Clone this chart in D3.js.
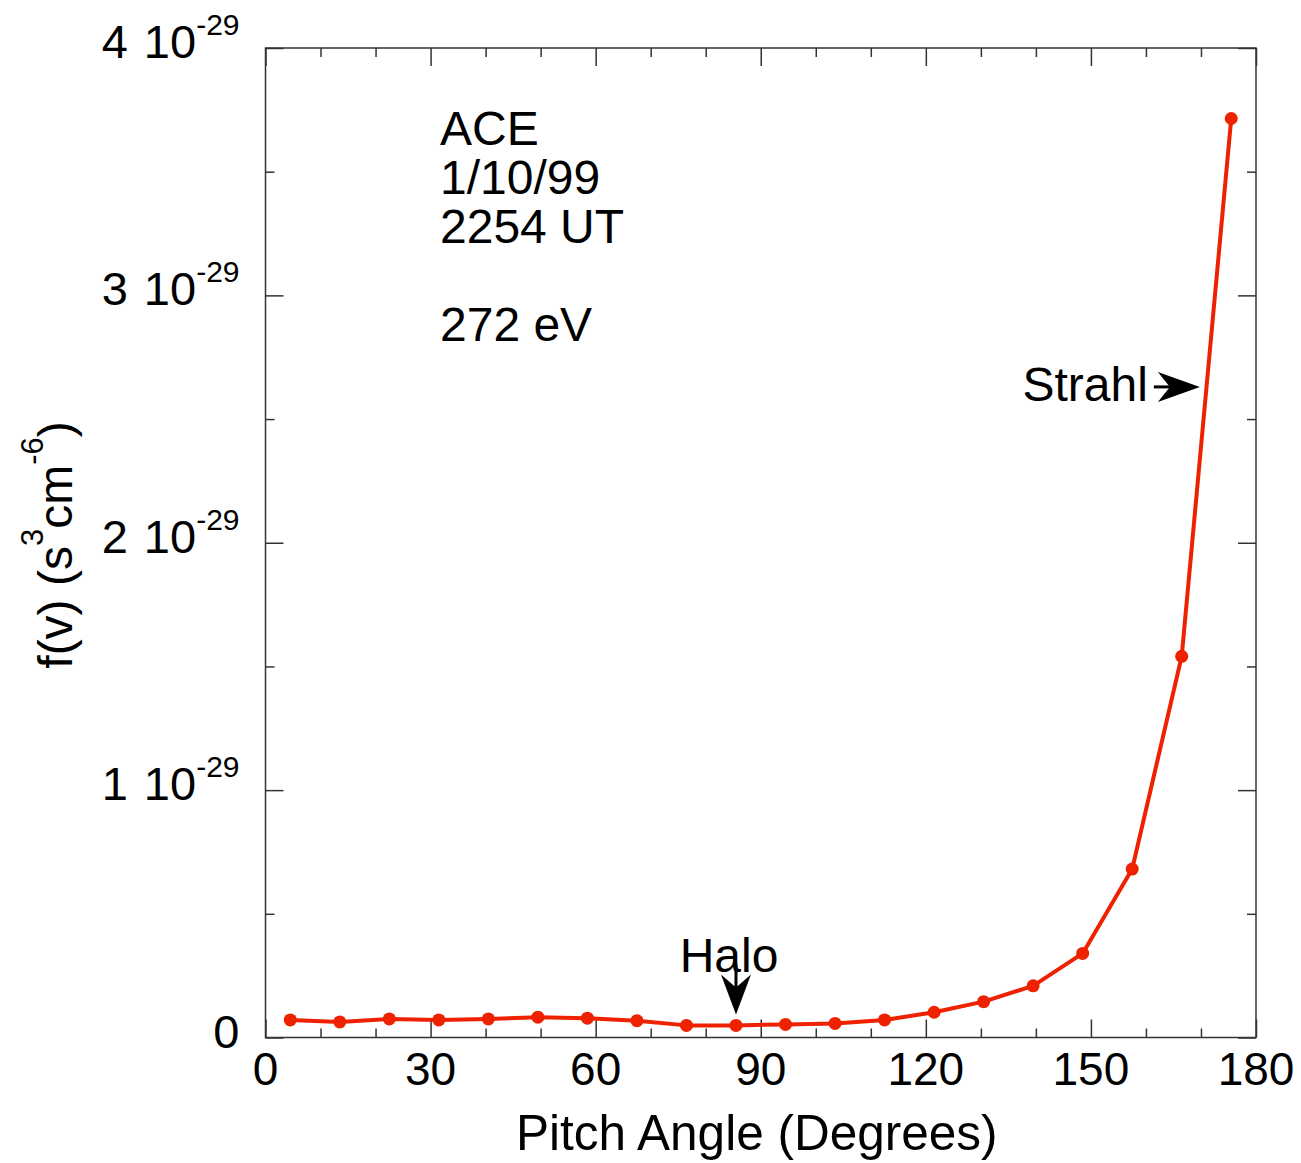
<!DOCTYPE html>
<html>
<head>
<meta charset="utf-8">
<script src="https://cdn.jsdelivr.net/npm/d3@7"></script>
<style>
  body { margin: 0; background: #fff; }
  svg text { font-family: "Liberation Sans", Arial, Helvetica, sans-serif; fill: #000; }
  .tick line, .frame { stroke: #333; stroke-width: 1.5; }
</style>
</head>
<body>
<svg id="chart" width="1301" height="1163"></svg>
<script>
// pitch angle bins (degrees) and f(v) in units of 1e-29 s^3 cm^-6
var pitchAngle = [4.5, 13.5, 22.5, 31.5, 40.5, 49.5, 58.5, 67.5, 76.5, 85.5,
                  94.5, 103.5, 112.5, 121.5, 130.5, 139.5, 148.5, 157.5, 166.5, 175.5];
var fv = [0.071, 0.063, 0.075, 0.071, 0.075, 0.082, 0.078, 0.068, 0.049, 0.049,
          0.053, 0.057, 0.071, 0.102, 0.145, 0.209, 0.340, 0.681, 1.541, 3.715];

var xMajor = [0, 30, 60, 90, 120, 150, 180];
var xMinor = [10, 20, 40, 50, 70, 80, 100, 110, 130, 140, 160, 170];
var yMajor = [0, 1, 2, 3, 4];
var yMinor = [0.5, 1.5, 2.5, 3.5];
var yLabels = ["0", "1 10", "2 10", "3 10", "4 10"];
var infoLines = ["ACE", "1/10/99", "2254 UT", "", "272 eV"];

var svg = d3.select("#chart"),
    margin = {top: 48, right: 45, bottom: 125.5, left: 265.5},
    width = +svg.attr("width") - margin.left - margin.right,
    height = +svg.attr("height") - margin.top - margin.bottom;

var x = d3.scaleLinear().domain([0, 180]).range([0, width]);
var y = d3.scaleLinear().domain([0, 4]).range([height, 0]);

var g = svg.append("g")
    .attr("transform", "translate(" + margin.left + "," + margin.top + ")");

// inward ticks on all four sides
function ticks(axis, vals, size, tr) {
    var a = g.append("g").attr("transform", tr || null)
        .call(axis.tickValues(vals).tickSize(-size).tickSizeOuter(0).tickFormat(""));
    a.select(".domain").remove();
    return a;
}
ticks(d3.axisBottom(x), xMajor, 18, "translate(0," + height + ")");
ticks(d3.axisBottom(x), xMinor, 9, "translate(0," + height + ")");
ticks(d3.axisTop(x), xMajor, 18);
ticks(d3.axisTop(x), xMinor, 9);
ticks(d3.axisLeft(y), yMajor, 18);
ticks(d3.axisLeft(y), yMinor, 9);
ticks(d3.axisRight(y), yMajor, 18, "translate(" + width + ",0)");
ticks(d3.axisRight(y), yMinor, 9, "translate(" + width + ",0)");

g.append("rect").attr("class", "frame")
    .attr("width", width).attr("height", height)
    .attr("fill", "none");

// x tick labels
g.selectAll(".xlab").data(xMajor).enter().append("text")
    .attr("x", function (d) { return x(d); })
    .attr("y", height + 47.5)
    .attr("text-anchor", "middle")
    .style("font-size", "46px")
    .text(function (d) { return d; });

// y tick labels with superscript exponent
var yl = g.selectAll(".ylab").data(yMajor).enter().append("text")
    .attr("x", -26)
    .attr("y", function (d) { return y(d) + 10; })
    .attr("text-anchor", "end")
    .style("font-size", "47px");
yl.append("tspan").text(function (d, i) { return yLabels[i]; })
    .style("word-spacing", function (d) { return d !== 0 ? "3px" : null; });
yl.filter(function (d) { return d !== 0; }).append("tspan")
    .attr("dy", -23).style("font-size", "30px").text("-29");

// axis titles
g.append("text")
    .attr("x", width / 2 - 4)
    .attr("y", height + 112.5)
    .attr("text-anchor", "middle")
    .style("font-size", "49.5px")
    .text("Pitch Angle (Degrees)");

var yt = svg.append("text")
    .attr("transform", "translate(72,545)rotate(-90)")
    .attr("text-anchor", "middle")
    .style("font-size", "48px");
yt.append("tspan").text("f(v) (s");
yt.append("tspan").attr("dy", -29).style("font-size", "31px").text("3");
yt.append("tspan").attr("dy", 29).text("cm");
yt.append("tspan").attr("dy", -29).style("font-size", "31px").text("-6");
yt.append("tspan").attr("dy", 29).text(")");

// data line and markers
var line = d3.line()
    .x(function (d, i) { return x(pitchAngle[i]); })
    .y(function (d) { return y(d); });

g.append("path")
    .datum(fv)
    .attr("d", line)
    .attr("fill", "none")
    .attr("stroke", "#ee2200")
    .attr("stroke-width", 4)
    .attr("stroke-linejoin", "round");

g.selectAll(".pt").data(fv).enter().append("circle")
    .attr("cx", function (d, i) { return x(pitchAngle[i]); })
    .attr("cy", function (d) { return y(d); })
    .attr("r", 6.5)
    .attr("fill", "#ee2200");

// info block
g.selectAll(".info").data(infoLines).enter().append("text")
    .attr("x", 174.5)
    .attr("y", function (d, i) { return 97 + i * 49; })
    .style("font-size", "48px")
    .text(function (d) { return d; });

// Halo annotation (arrow pointing down onto the 85.5 deg point)
var hx = x(pitchAngle[9]), hy = y(fv[9]) - 11;
g.append("text")
    .attr("x", hx - 7).attr("y", hy - 42)
    .attr("text-anchor", "middle")
    .style("font-size", "48px")
    .text("Halo");
g.append("line")
    .attr("x1", hx).attr("x2", hx).attr("y1", hy - 50).attr("y2", hy - 20)
    .attr("stroke", "#000").attr("stroke-width", 3);
g.append("path")
    .attr("d", "M" + hx + "," + hy + "L" + (hx - 15) + "," + (hy - 40) +
               "L" + hx + "," + (hy - 27) + "L" + (hx + 15) + "," + (hy - 40) + "Z")
    .attr("fill", "#000");

// Strahl annotation (arrow pointing right onto the steep part)
var sx = x(169.8), sy = y(2.63);
g.append("text")
    .attr("x", sx - 52).attr("y", sy + 14)
    .attr("text-anchor", "end")
    .style("font-size", "48px")
    .text("Strahl");
g.append("line")
    .attr("x1", sx - 46).attr("x2", sx - 20).attr("y1", sy).attr("y2", sy)
    .attr("stroke", "#000").attr("stroke-width", 3);
g.append("path")
    .attr("d", "M" + sx + "," + sy + "L" + (sx - 42) + "," + (sy - 15) +
               "L" + (sx - 30) + "," + sy + "L" + (sx - 42) + "," + (sy + 15) + "Z")
    .attr("fill", "#000");
</script>
</body>
</html>
